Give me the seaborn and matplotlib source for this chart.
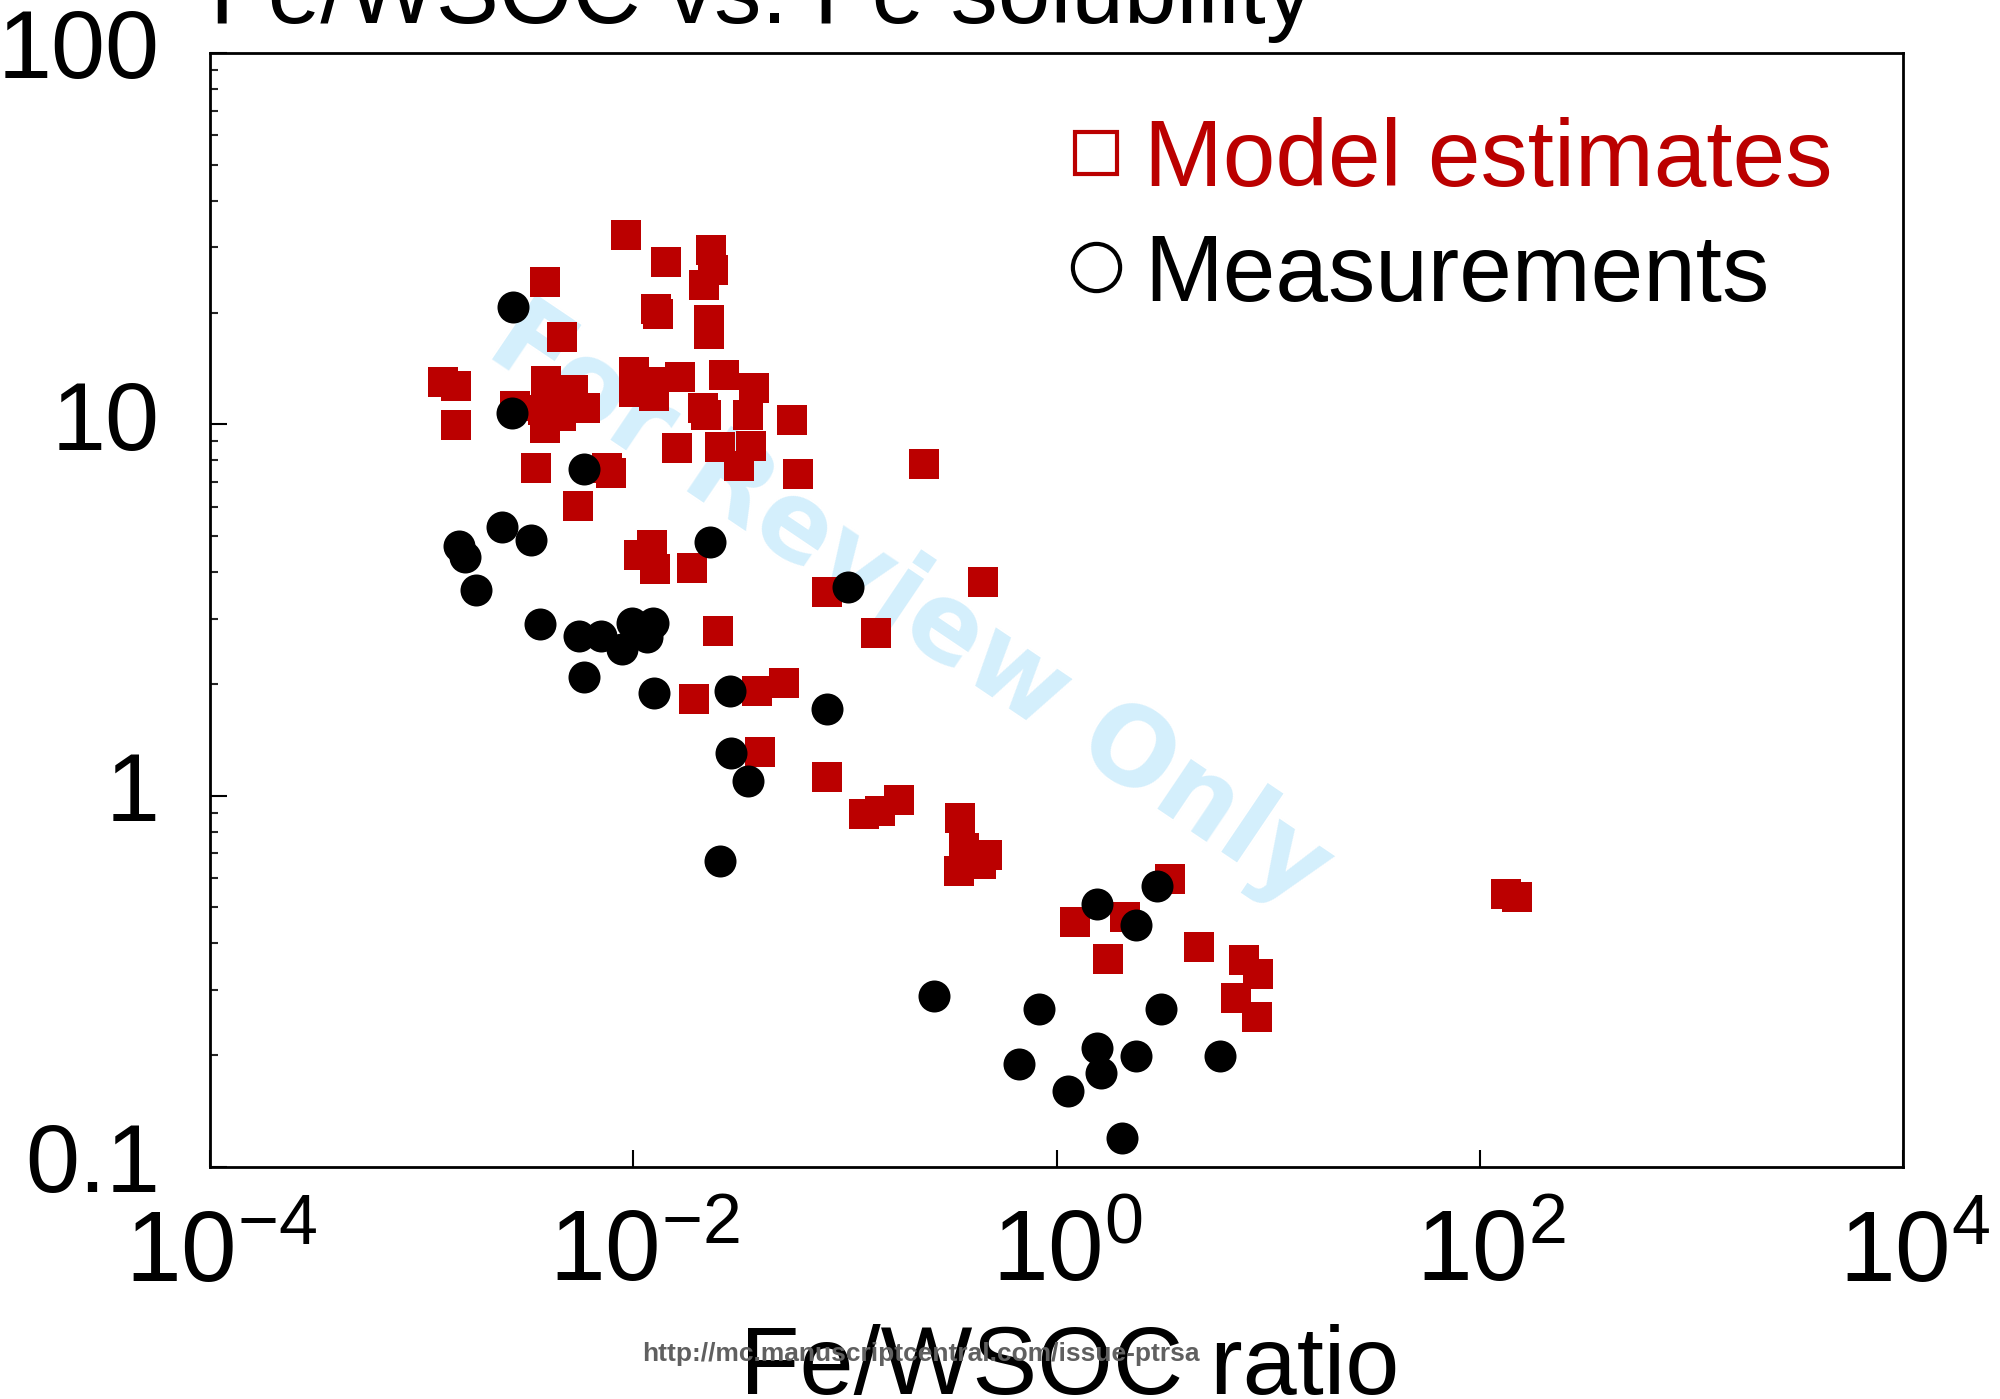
import numpy as np
import pandas as pd
import seaborn as sns
import matplotlib.pyplot as plt
from matplotlib.lines import Line2D
from matplotlib.ticker import LogLocator, NullLocator
from matplotlib.transforms import ScaledTranslation

# Model estimates (red squares)
model_ratio = [0.00126, 0.00146, 0.00146, 0.00382, 0.00461, 0.00387, 0.00518, 0.00277, 0.00376, 0.00592,
               0.00457, 0.00383, 0.00348, 0.00547, 0.00750, 0.00788, 0.00927, 0.01425, 0.0234, 0.0237,
               0.0217, 0.0128, 0.0131, 0.0228, 0.0228, 0.0101, 0.0101, 0.01236, 0.01253, 0.01664,
               0.0268, 0.0373, 0.0214, 0.0221, 0.0349, 0.0565, 0.01614, 0.0257, 0.0361, 0.0315,
               0.0599, 0.2355, 0.0123, 0.01068, 0.0127, 0.01897, 0.0826, 0.450, 0.0252, 0.1404,
               0.0193, 0.0386, 0.0518, 0.0399, 0.0826, 0.123, 0.1466, 0.180, 0.349, 0.367,
               0.471, 0.348, 0.441, 3.45, 1.22, 2.11, 1.75, 4.70, 7.73, 9.0,
               7.08, 8.84, 133, 150]
model_solubility = [13.0, 12.7, 9.94, 24.2, 17.2, 13.1, 12.4, 11.2, 10.9, 11.1,
                    10.5, 9.75, 7.64, 6.03, 7.61, 7.38, 32.3, 27.3, 29.5, 26.0,
                    23.8, 20.5, 19.8, 19.1, 17.5, 13.8, 12.2, 13.0, 11.9, 13.4,
                    13.6, 12.5, 11.1, 10.6, 10.6, 10.25, 8.63, 8.69, 8.76, 7.74,
                    7.33, 7.82, 4.74, 4.45, 4.07, 4.11, 3.54, 3.77, 2.77, 2.74,
                    1.82, 1.91, 2.01, 1.31, 1.12, 0.892, 0.909, 0.973, 0.869, 0.721,
                    0.692, 0.628, 0.653, 0.597, 0.457, 0.472, 0.364, 0.392, 0.360, 0.332,
                    0.286, 0.253, 0.543, 0.535]

# Measurements (black circles)
meas_ratio = [0.00269, 0.00267, 0.00583, 0.00240, 0.00328, 0.00150, 0.00160, 0.00181, 0.00361, 0.00555,
              0.00702, 0.00583, 0.00883, 0.0099, 0.01245, 0.01158, 0.01258, 0.0230, 0.0288, 0.0290,
              0.0348, 0.0257, 0.103, 0.0824, 0.264, 0.828, 0.665, 1.556, 1.625, 1.134,
              2.386, 3.13, 5.91, 2.035, 1.55, 2.386, 3.00]
meas_solubility = [20.7, 10.7, 7.59, 5.30, 4.88, 4.71, 4.40, 3.59, 2.90, 2.70,
                   2.70, 2.09, 2.49, 2.92, 2.91, 2.68, 1.89, 4.82, 1.91, 1.30,
                   1.095, 0.667, 3.65, 1.71, 0.289, 0.267, 0.190, 0.2095, 0.179, 0.160,
                   0.1993, 0.267, 0.1993, 0.1197, 0.510, 0.448, 0.571]

xticks = [1e-4, 1e-2, 1, 1e2, 1e4]
xtick_labels = [r'$10^{-4}$', r'$10^{-2}$', r'$10^{0}$', r'$10^{2}$', r'$10^{4}$']
yticks = [0.1, 1, 10, 100]
ytick_labels = ['0.1', '1', '10', '100']

RED = '#BB0000'

sns.set_style('ticks')
plt.rcParams['font.family'] = ['Liberation Sans', 'DejaVu Sans']
plt.rcParams['text.color'] = 'black'
plt.rcParams['axes.labelcolor'] = 'black'
plt.rcParams['mathtext.fontset'] = 'custom'
plt.rcParams['mathtext.rm'] = 'Liberation Sans'
plt.rcParams['mathtext.it'] = 'Liberation Sans:italic'
plt.rcParams['mathtext.bf'] = 'Liberation Sans:bold'

model = pd.DataFrame({'ratio': model_ratio, 'solubility': model_solubility})
meas = pd.DataFrame({'ratio': meas_ratio, 'solubility': meas_solubility})

fig = plt.figure(figsize=(20, 13.99), dpi=100)
ax = fig.add_axes([0.105, 0.1658, 0.8465, 0.7963])

sns.scatterplot(data=model, x='ratio', y='solubility', marker='s', color=RED,
                s=450, linewidth=0, ax=ax, zorder=2)
sns.scatterplot(data=meas, x='ratio', y='solubility', marker='o', color='black',
                s=531, linewidth=0, ax=ax, zorder=3)

ax.set_xscale('log')
ax.set_yscale('log')
ax.set_xlim(1e-4, 1e4)
ax.set_ylim(0.1, 100)
ax.set_xticks(xticks)
ax.set_xticklabels(xtick_labels)
ax.set_yticks(yticks)
ax.set_yticklabels(ytick_labels)
ax.xaxis.set_minor_locator(NullLocator())
ax.yaxis.set_minor_locator(LogLocator(subs=np.arange(2, 10)))

ax.tick_params(axis='both', which='major', direction='in', length=12, width=1.5,
               colors='black')
ax.tick_params(axis='y', which='minor', direction='in', length=6, width=1.5)
ax.tick_params(axis='y', which='major', pad=36, labelsize=70)
ax.tick_params(axis='x', which='major', pad=30, labelsize=72)
for lab in ax.get_yticklabels():
    lab.set_transform(lab.get_transform() + ScaledTranslation(0, 7 / 72, fig.dpi_scale_trans))
for lab in ax.get_xticklabels():
    lab.set_transform(lab.get_transform() + ScaledTranslation(8 / 72, 0, fig.dpi_scale_trans))
for sp in ax.spines.values():
    sp.set_linewidth(2)
    sp.set_color('black')

ax.set_xlabel('Fe/WSOC ratio', fontsize=70, color='black')
ax.set_ylabel('')
ax.xaxis.label.set_verticalalignment('baseline')
ax.xaxis.set_label_coords(0.508, -0.2038)

# watermark
ax.text(0.413, 0.504, 'For Review Only', transform=ax.transAxes, rotation=-34,
        rotation_mode='anchor', ha='center', va='center', fontsize=78, fontweight='bold',
        color='#D4EFFC', family='DejaVu Sans', zorder=0)

handles = [
    Line2D([], [], marker='s', linestyle='none', markersize=30, markerfacecolor='none',
           markeredgecolor=RED, markeredgewidth=3),
    Line2D([], [], marker='o', linestyle='none', markersize=34, markerfacecolor='none',
           markeredgecolor='black', markeredgewidth=3),
]
leg = ax.legend(handles, ['Model estimates', 'Measurements'], loc='upper left',
                bbox_to_anchor=(1072 / 2000, 1 - 117 / 1399), bbox_transform=fig.transFigure,
                frameon=False, fontsize=68, handlelength=0.5, handletextpad=0.26,
                borderpad=0, borderaxespad=0, labelspacing=0.27)
leg.get_texts()[0].set_color(RED)
leg.get_texts()[1].set_color('black')

fig.text(0.105, 1 - 23 / 1399, 'Fe/WSOC vs. Fe solubility', ha='left', va='baseline',
         fontsize=68, color='black')
fig.text(921 / 2000, 1 - 1361 / 1399, 'http://mc.manuscriptcentral.com/issue-ptrsa',
         ha='center', va='baseline', fontsize=19, fontweight='bold', color='#606060')

fig.savefig('out.png', dpi=100)
